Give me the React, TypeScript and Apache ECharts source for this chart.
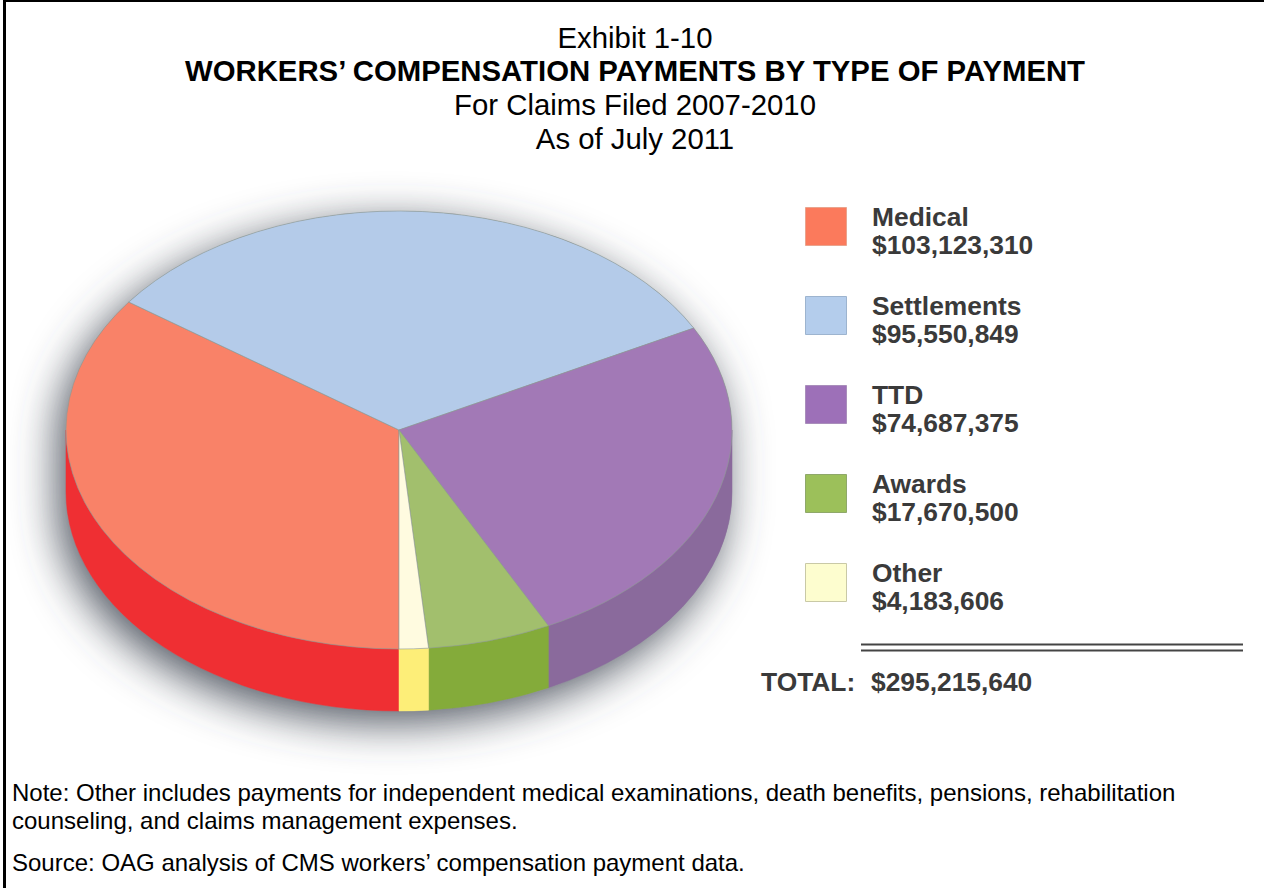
import React, { useEffect, useRef } from "react";
import * as echarts from "echarts";

const categories = ["Medical", "Settlements", "TTD", "Awards", "Other"];
const payments = [103123310, 95550849, 74687375, 17670500, 4183606];
const topColors = ["#f98268", "#b4cbe9", "#a279b6", "#a2bf6d", "#fffbe0"];
const wallColors = ["#ef2f33", "#b4cbe9", "#8a6a9c", "#84ab3a", "#fdee78"];

const legendValues = ["$103,123,310", "$95,550,849", "$74,687,375", "$17,670,500", "$4,183,606"];
const legendColors = ["#fb7a5c", "#b4cdec", "#9d70b8", "#9cc05a", "#fdfdcf"];
const legendEdges = ["#e9a48e", "#9db4cf", "#a98ebb", "#8fa86a", "#c9c9a6"];
const totalLabel = "TOTAL:";
const totalValue = "$295,215,640";

const titleLines = [
  { text: "Exhibit 1-10", bold: false, y: 37 },
  { text: "WORKERS\u2019 COMPENSATION PAYMENTS BY TYPE OF PAYMENT", bold: true, y: 70 },
  { text: "For Claims Filed 2007-2010", bold: false, y: 104 },
  { text: "As of July 2011", bold: false, y: 138 },
];
const noteLines = [
  { text: "Note: Other includes payments for independent medical examinations, death benefits, pensions, rehabilitation", y: 792 },
  { text: "counseling, and claims management expenses.", y: 820 },
  { text: "Source: OAG analysis of CMS workers\u2019 compensation payment data.", y: 862 },
];

const FONT = '"Liberation Sans", Arial, sans-serif';
const LEGEND_FONT = `bold 25px ${FONT}`;
const LEGEND_STRETCH = 1.055;
const CX = 399;
const CY = 430;
const RX = 333;
const RY = 219;
const DEPTH = 62;
const TAU = Math.PI * 2;

// Angle is measured clockwise from twelve o'clock on the tilted disc.
const pt = (a: number, dy = 0) => [CX + RX * Math.sin(a), CY + dy - RY * Math.cos(a)];

function topPath(a0: number, a1: number) {
  const [x0, y0] = pt(a0);
  const [x1, y1] = pt(a1);
  const large = a1 - a0 > Math.PI ? 1 : 0;
  return `M${CX} ${CY}L${x0} ${y0}A${RX} ${RY} 0 ${large} 1 ${x1} ${y1}Z`;
}

function wallPath(a0: number, a1: number) {
  // Only the near half of the rim (90 to 270 degrees) is visible.
  const base = a0 >= TAU ? TAU : 0;
  const s = Math.max(a0 - base, Math.PI / 2);
  const e = Math.min(a1 - base, (3 * Math.PI) / 2);
  if (e <= s) return "";
  const [x0, y0] = pt(s);
  const [x1, y1] = pt(e);
  const [x2, y2] = pt(e, DEPTH);
  const [x3, y3] = pt(s, DEPTH);
  return `M${x0} ${y0}A${RX} ${RY} 0 0 1 ${x1} ${y1}L${x2} ${y2}A${RX} ${RY} 0 0 0 ${x3} ${y3}Z`;
}

// Outline of the whole drum, used for the soft drop shadow.
const silhouette = () => {
  const [lx, ly] = pt(-Math.PI / 2);
  const [rx, ry] = pt(Math.PI / 2);
  return `M${lx} ${ly}A${RX} ${RY} 0 0 1 ${rx} ${ry}L${rx} ${ry + DEPTH}A${RX} ${RY} 0 0 1 ${lx} ${ly + DEPTH}Z`;
};

export default function App() {
  const ref = useRef<HTMLDivElement>(null);

  useEffect(() => {
    document.body.style.margin = "0";
    document.body.style.overflow = "hidden";
    const chart = echarts.init(ref.current!, undefined, { renderer: "svg" });

    const total = payments.reduce((s, v) => s + v, 0);
    let running = Math.PI;
    const rows = payments.map((v, i) => {
      const start = running;
      running += (v / total) * TAU;
      return [i, start, running, v];
    });

    const legendText = (text: string, x: number, y: number) => ({
      type: "text",
      x,
      y,
      scaleX: LEGEND_STRETCH,
      style: { text, fill: "#3a3a3a", font: LEGEND_FONT, verticalAlign: "middle" },
    });

    // The frame shows along the top and left edges only.
    const graphic: any[] = [
      { type: "line", shape: { x1: 4.5, y1: 0, x2: 4.5, y2: 888 }, style: { stroke: "#000", lineWidth: 3 } },
      { type: "line", shape: { x1: 3, y1: 1, x2: 1264, y2: 1 }, style: { stroke: "#000", lineWidth: 2 } },
    ];
    titleLines.forEach((l) =>
      graphic.push({
        type: "text",
        x: 635,
        y: l.y,
        style: {
          text: l.text,
          fill: "#000",
          font: `${l.bold ? "bold " : ""}29.33px ${FONT}`,
          align: "center",
          verticalAlign: "middle",
        },
      }),
    );
    noteLines.forEach((l) =>
      graphic.push({
        type: "text",
        x: 12,
        y: l.y,
        style: { text: l.text, fill: "#000", font: `24px ${FONT}`, align: "left", verticalAlign: "middle" },
      }),
    );
    categories.forEach((name, i) => {
      const top = 207 + i * 89;
      graphic.push({
        type: "rect",
        shape: { x: 805.5, y: top + 0.5, width: 41, height: 38 },
        style: { fill: legendColors[i], stroke: legendEdges[i], lineWidth: 1 },
      });
      graphic.push(legendText(name, 872, top + 10));
      graphic.push(legendText(legendValues[i], 872, top + 38));
    });
    graphic.push(
      { type: "line", shape: { x1: 861, y1: 644.5, x2: 1243, y2: 644.5 }, style: { stroke: "#444", lineWidth: 2 } },
      { type: "line", shape: { x1: 861, y1: 650.5, x2: 1243, y2: 650.5 }, style: { stroke: "#444", lineWidth: 2 } },
      legendText(totalLabel, 761, 682),
      legendText(totalValue, 871, 682),
    );

    chart.setOption({
      animation: false,
      backgroundColor: "#fff",
      graphic,
      series: [
        {
          type: "custom",
          coordinateSystem: "none",
          silent: true,
          z: 1,
          data: [[0]],
          renderItem: () => ({
            type: "path",
            shape: { pathData: silhouette() },
            style: {
              fill: "#8d949c",
              shadowBlur: 44,
              shadowColor: "rgba(70,78,88,0.95)",
              shadowOffsetX: -8,
              shadowOffsetY: 12,
            },
          }),
        },
        {
          type: "custom",
          coordinateSystem: "none",
          silent: true,
          z: 2,
          data: rows,
          renderItem: (_p: any, api: any) => {
            const i = api.value(0);
            const a0 = api.value(1);
            const a1 = api.value(2);
            const wall = wallPath(a0, a1);
            const children: any[] = [];
            if (wall) {
              children.push({
                type: "path",
                shape: { pathData: wall },
                style: { fill: wallColors[i], stroke: wallColors[i], lineWidth: 0.5 },
              });
            }
            children.push({
              type: "path",
              shape: { pathData: topPath(a0, a1) },
              style: { fill: topColors[i], stroke: "#8f9a94", lineWidth: 0.6 },
            });
            return { type: "group", children };
          },
        },
      ],
    });

    return () => chart.dispose();
  }, []);

  return (
    <div ref={ref} style={{ position: "absolute", left: 0, top: 0, width: 1264, height: 888 }} />
  );
}
